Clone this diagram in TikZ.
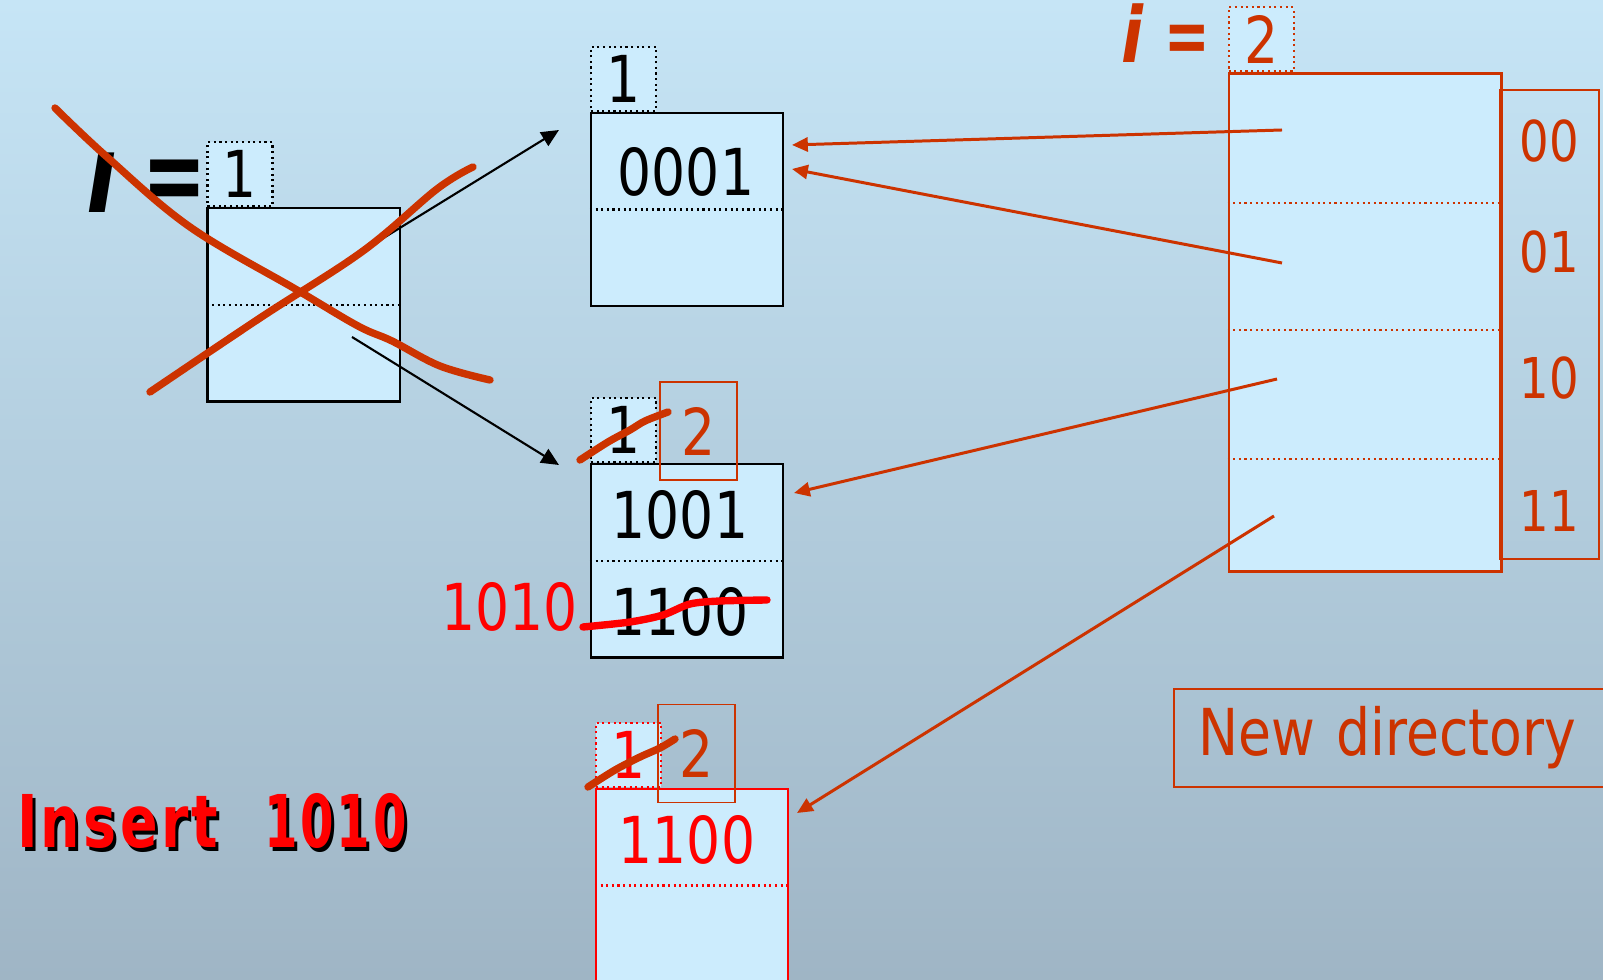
\documentclass[tikz,border=0pt]{standalone}
\usepackage{fontspec}
\setmainfont{DejaVu Sans Condensed}[FakeStretch=0.92]
\usetikzlibrary{arrows.meta, positioning, calc}

\definecolor{bgtop}{RGB}{198,229,246}
\definecolor{bgbot}{RGB}{159,181,197}
\definecolor{cellblue}{RGB}{204,236,253}
\definecolor{rust}{RGB}{204,51,0}
\definecolor{hotred}{RGB}{255,0,0}

\tikzset{
  bucket/.style={draw=black, line width=0.6pt, fill=cellblue, minimum width=1.92cm, minimum height=1.93cm, inner sep=0pt},
  depthbox/.style={draw=black, densely dotted, line width=0.6pt, fill=cellblue, minimum width=0.65cm, minimum height=0.64cm, inner sep=0pt, font=\digitfont},
  newdepth/.style={draw=rust, line width=0.5pt, minimum width=0.77cm, minimum height=0.98cm, inner sep=0pt, text=rust, font=\digitfont},
  digits/.style={font=\digitfont, inner sep=0pt},
  strike/.style={draw=rust, line width=2.1pt, line cap=round},
  oldptr/.style={draw=black, line width=0.6pt, -{Triangle[length=5pt,width=4.5pt]}},
  ptr/.style={draw=rust, line width=0.85pt, -{Triangle[length=4.5pt,width=4pt]}},
  inserttext/.style={font=\fontsize{20.7}{24}\selectfont\bfseries\addfontfeature{LetterSpace=5}, inner sep=0pt},
}
\newcommand{\digitfont}{\fontsize{18.4}{20}\selectfont}
\newcommand{\insertlabel}{\scalebox{0.92}[1]{Insert}\hspace{13pt}\scalebox{0.8}[1]{1010}}

\begin{document}
\begin{tikzpicture}[x=0.01cm, y=-0.01cm]

  \clip (0,0) rectangle (1603,980);
  \shade[top color=bgtop, bottom color=bgbot] (0,0) rectangle (1603,980);

  % old bucket, i = 1
  \node[bucket] (oldbkt) at (303.5,305) {};
  \draw[densely dotted, line width=0.6pt] (oldbkt.west) -- (oldbkt.east);
  \node[depthbox, anchor=south west] (olddep) at (oldbkt.north west) {1};
  \node[font=\fontsize{31}{34}\selectfont\bfseries\itshape, anchor=base west, inner sep=0pt] (oldi) at (86,213) {ı\hspace{7pt}\scalebox{0.85}[1]{=}};

  % bucket 0001
  \node[bucket] (bktA) at (687,209.5) {};
  \draw[densely dotted, line width=0.6pt] (bktA.west) -- (bktA.east);
  \node[depthbox, anchor=south west] (depA) at (bktA.north west) {1};
  \node[digits] (keyA) at (686,172) {0001};

  % bucket 1001 / 1100
  \node[bucket] (bktB) at (687,561) {};
  \draw[densely dotted, line width=0.6pt] (bktB.west) -- (bktB.east);
  \node[depthbox, anchor=south west] (depB) at (bktB.north west) {1};
  \node[newdepth] (ndepB) at (698.5,431) {2};
  \node[digits] (keyB0) at (680,515) {1001};
  \node[digits] (keyB1) at (680,612) {1100};
  \node[digits, text=hotred, anchor=east] (ins) at (578,607) {1010};

  % new bucket 1100
  \node[bucket, draw=hotred] (bktC) at (692,885.5) {};
  \draw[hotred, densely dotted, line width=0.6pt] (bktC.west) -- (bktC.east);
  \node[depthbox, draw=hotred, text=hotred, anchor=south west] (depC) at (bktC.north west) {1};
  \node[newdepth] (ndepC) at (696.5,753.5) {2};
  \node[digits, text=hotred] (keyC) at (687,840) {1100};

  % directory, i = 2
  \node[draw=rust, line width=0.8pt, fill=cellblue, minimum width=2.72cm, minimum height=4.97cm, inner sep=0pt] (dir) at (1365,322.5) {};
  \foreach \y in {203,330,459}
    \draw[rust, densely dotted, line width=0.6pt] (dir.west |- 0,\y) -- (dir.east |- 0,\y);
  \node[depthbox, draw=rust, text=rust, anchor=south west] (dirdep) at (dir.north west) {2};
  \node[font=\fontsize{22}{24}\selectfont\bfseries\itshape, text=rust, anchor=base west, inner sep=0pt] (newi) at (1121,63) {i\hspace{6pt}\scalebox{0.85}[1]{=}};
  \node[draw=rust, line width=0.7pt, minimum width=0.99cm, minimum height=4.69cm, inner sep=0pt] (lbl) at (1549.5,324.5) {};
  \foreach \t/\y in {00/141, 01/252, 10/378, 11/511}
    \node[font=\fontsize{16}{18}\selectfont, text=rust, inner sep=0pt] (lbl\t) at (1549,\y) {\t};

  % labels
  \node[draw=rust, line width=0.7pt, anchor=west, minimum height=0.98cm, inner xsep=0.24cm, text width=4.1cm, align=left, text=rust, font=\digitfont] (newdir) at (1173,738) {New directory};
  \node[inserttext, text=black] (insshadow) at (215,825) {\insertlabel};
  \node[inserttext, text=hotred] (instext) at (212,821.5) {\insertlabel};

  % pointers
  \coordinate (oldp0) at (377,242);
  \coordinate (oldp1) at (352,337);
  \coordinate (inA) at (559,130);
  \coordinate (inB) at (559,465);
  \draw[oldptr] (oldp0) -- (inA);
  \draw[oldptr] (oldp1) -- (inB);

  \coordinate (p00) at (1282,130);
  \coordinate (p01) at (1282,263);
  \coordinate (p10) at (1277,379);
  \coordinate (p11) at (1274,516);
  \coordinate (e00) at (792,145);
  \coordinate (e01) at (792,169);
  \coordinate (e10) at (794,493);
  \coordinate (e11) at (797,813);
  \foreach \s/\t in {p00/e00, p01/e01, p10/e10, p11/e11}
    \draw[ptr] (\s) -- (\t);

  % strike-outs
  \draw[strike] plot[smooth, tension=0.6] coordinates {(55,108) (107,157) (190,227) (297,290) (358,326) (392,341) (440,366) (490,380)};
  \draw[strike] plot[smooth, tension=0.6] coordinates {(150,392) (260,318) (363,251) (437,189) (473,167)};
  \draw[strike] plot[smooth] coordinates {(580,460) (608,442) (630,430) (645,421) (668,412)};
  \draw[strike] plot[smooth] coordinates {(588,787) (615,770) (640,757) (660,748) (675,739)};
  \draw[strike, draw=hotred] plot[smooth] coordinates {(583,627) (630,622) (663,615) (690,604) (720,601) (767,600)};

\end{tikzpicture}
\end{document}
